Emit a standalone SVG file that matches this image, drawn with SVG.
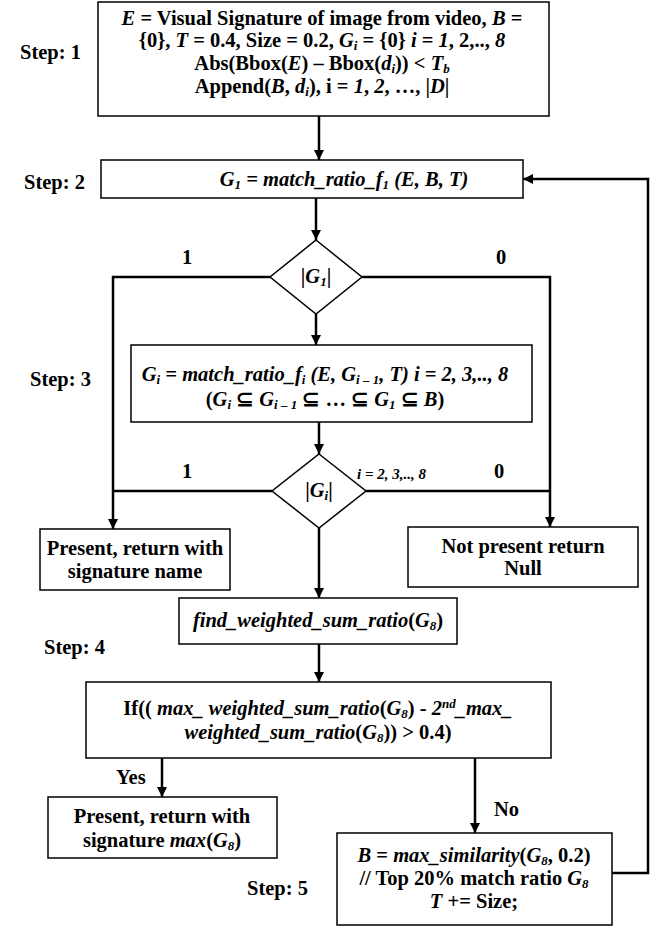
<svg xmlns="http://www.w3.org/2000/svg" width="651" height="926" viewBox="0 0 651 926">
<style>
text{font-family:"Liberation Serif","Times New Roman",serif;font-weight:bold;font-size:20.5px;fill:#000}
.c{text-anchor:middle}
.i{font-style:italic}
.s{font-size:13px}
.box{fill:#fff;stroke:#000;stroke-width:1.5}
.ln{fill:none;stroke:#000;stroke-width:2.5}
</style>
<defs>
<marker id="ah" viewBox="0 0 10 10" refX="10" refY="5" markerWidth="4" markerHeight="4" orient="auto" markerUnits="strokeWidth">
<path d="M0,0 L10,5 L0,10 z" fill="#000"/>
</marker>
</defs>
<rect width="651" height="926" fill="#fff"/>

<g id="labels">
<text x="20" y="59">Step: 1</text>
<text x="24" y="189">Step: 2</text>
<text x="30" y="386">Step: 3</text>
<text x="44" y="654">Step: 4</text>
<text x="247" y="895">Step: 5</text>
<text x="182" y="264">1</text>
<text x="496" y="264">0</text>
<text x="182" y="478">1</text>
<text x="494" y="478">0</text>
<text x="357" y="479" class="i" style="font-size:15px">i = 2, 3,.., 8</text>
<text x="116" y="784">Yes</text>
<text x="494" y="816">No</text>
</g>

<g id="connectors">
<path class="ln" d="M319,116 V160" marker-end="url(#ah)"/>
<path class="ln" d="M316,198 V240" marker-end="url(#ah)"/>
<path class="ln" d="M270,277 H113 V529" marker-end="url(#ah)"/>
<path class="ln" d="M272,491 H113"/>
<path class="ln" d="M362,277 H550 V527" marker-end="url(#ah)"/>
<path class="ln" d="M366,491 H550"/>
<path class="ln" d="M316,314 V345" marker-end="url(#ah)"/>
<path class="ln" d="M319,422 V454" marker-end="url(#ah)"/>
<path class="ln" d="M319,528 V598" marker-end="url(#ah)"/>
<path class="ln" d="M319,644 V682" marker-end="url(#ah)"/>
<path class="ln" d="M162,758 V797" marker-end="url(#ah)"/>
<path class="ln" d="M475,758 V833" marker-end="url(#ah)"/>
<path class="ln" d="M612,873 H648 V179 H523" marker-end="url(#ah)"/>
</g>

<g id="step1">
<rect class="box" x="98" y="2" width="451" height="114"/>
<text class="c" x="322" y="25"><tspan class="i">E</tspan> = Visual Signature of image from video, <tspan class="i">B</tspan> =</text>
<text class="c" x="322" y="47">{0}, <tspan class="i">T</tspan> = 0.4, Size = 0.2, <tspan class="i">G</tspan><tspan class="s i" dy="3">i</tspan><tspan dy="-3"> = {0} </tspan><tspan class="i">i</tspan> = <tspan class="i">1</tspan>, 2,.., <tspan class="i">8</tspan></text>
<text class="c" x="322" y="70">Abs(Bbox(<tspan class="i">E</tspan>) – Bbox(<tspan class="i">d</tspan><tspan class="s i" dy="3">i</tspan><tspan dy="-3">)) &lt; </tspan><tspan class="i">T</tspan><tspan class="s i" dy="3">b</tspan></text>
<text class="c" x="322" y="93">Append(<tspan class="i">B</tspan>, <tspan class="i">d</tspan><tspan class="s i" dy="3">i</tspan><tspan dy="-3">), i = </tspan><tspan class="i">1</tspan>, <tspan class="i">2</tspan>, …, |<tspan class="i">D</tspan>|</text>
</g>

<g id="step2">
<rect class="box" x="101" y="160" width="422" height="38"/>
<text class="c i" x="344" y="186">G<tspan class="s" dy="3">1</tspan><tspan dy="-3"> = match_ratio_f</tspan><tspan class="s" dy="3">1</tspan><tspan dy="-3"> (E, B, T)</tspan></text>
</g>

<g id="decision1">
<polygon class="box" points="316,240 362,277 316,314 270,277"/>
<text class="c" x="316" y="283">|<tspan class="i">G</tspan><tspan class="s i" dy="3">1</tspan><tspan dy="-3">|</tspan></text>
</g>

<g id="step3">
<rect class="box" x="131" y="345" width="401" height="77"/>
<text class="c i" x="325" y="381">G<tspan class="s" dy="3">i</tspan><tspan dy="-3"> = match_ratio_f</tspan><tspan class="s" dy="3">i</tspan><tspan dy="-3"> (E, G</tspan><tspan class="s" dy="3">i – 1</tspan><tspan dy="-3">, T) i = 2, 3,.., 8</tspan></text>
<text class="c" x="325" y="406">(<tspan class="i">G</tspan><tspan class="s i" dy="3">i</tspan><tspan dy="-3"> ⊆ </tspan><tspan class="i">G</tspan><tspan class="s i" dy="3">i – 1</tspan><tspan dy="-3"> ⊆ … ⊆ </tspan><tspan class="i">G</tspan><tspan class="s i" dy="3">1</tspan><tspan dy="-3"> ⊆ </tspan><tspan class="i">B</tspan>)</text>
</g>

<g id="decision2">
<polygon class="box" points="319,454 366,491 319,528 272,491"/>
<text class="c" x="319" y="497">|<tspan class="i">G</tspan><tspan class="s i" dy="3">i</tspan><tspan dy="-3">|</tspan></text>
</g>

<g id="present1">
<rect class="box" x="40" y="529" width="190" height="61"/>
<text class="c" x="135" y="555">Present, return with</text>
<text class="c" x="135" y="578">signature name</text>
</g>

<g id="notpresent">
<rect class="box" x="408" y="527" width="230" height="60"/>
<text class="c" x="523" y="553">Not present return</text>
<text class="c" x="523" y="575">Null</text>
</g>

<g id="findweighted">
<rect class="box" x="179" y="598" width="278" height="46"/>
<text class="c" x="318" y="627"><tspan class="i">find_weighted_sum_ratio</tspan>(<tspan class="i">G</tspan><tspan class="s i" dy="3">8</tspan><tspan dy="-3">)</tspan></text>
</g>

<g id="ifbox">
<rect class="box" x="86" y="682" width="465" height="76"/>
<text class="c" x="318" y="715">If(( <tspan class="i">max_ weighted_sum_ratio</tspan>(<tspan class="i">G</tspan><tspan class="s i" dy="3">8</tspan><tspan dy="-3">) -  </tspan><tspan class="i">2</tspan><tspan class="s i" dy="-7">nd</tspan><tspan class="i" dy="7">_max_</tspan></text>
<text class="c" x="318" y="739"><tspan class="i">weighted_sum_ratio</tspan>(<tspan class="i">G</tspan><tspan class="s i" dy="3">8</tspan><tspan dy="-3">)) &gt; 0.4)</tspan></text>
</g>

<g id="present2">
<rect class="box" x="48" y="797" width="229" height="61"/>
<text class="c" x="162" y="823">Present, return with</text>
<text class="c" x="162" y="847">signature <tspan class="i">max</tspan>(<tspan class="i">G</tspan><tspan class="s i" dy="3">8</tspan><tspan dy="-3">)</tspan></text>
</g>

<g id="step5">
<rect class="box" x="337" y="833" width="275" height="92"/>
<text class="c" x="474" y="862"><tspan class="i">B</tspan> = <tspan class="i">max_similarity</tspan>(<tspan class="i">G</tspan><tspan class="s i" dy="3">8</tspan><tspan dy="-3">, 0.2)</tspan></text>
<text class="c" x="474" y="885">// Top 20% match ratio <tspan class="i">G</tspan><tspan class="s i" dy="3">8</tspan></text>
<text class="c" x="474" y="908"><tspan class="i">T</tspan> += Size;</text>
</g>
</svg>
